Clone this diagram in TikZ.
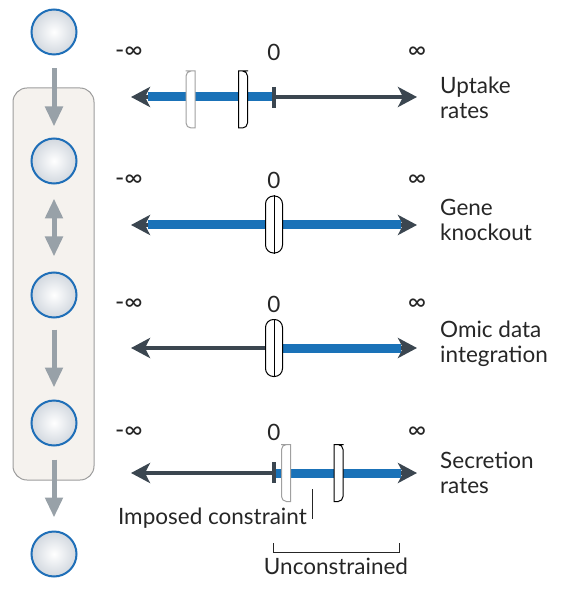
\documentclass[tikz,border=0pt]{standalone}
\usepackage{fontspec}
\setmainfont{Lato}
\usetikzlibrary{arrows.meta}
\definecolor{fluxblue}{HTML}{1A72B8}
\definecolor{axisdark}{HTML}{3B4650}
\definecolor{arrowgray}{HTML}{98A1A8}
\definecolor{boxfill}{HTML}{F5F2EE}
\definecolor{boxline}{HTML}{9C9C9C}
\definecolor{circblue}{HTML}{1F6FB8}
\definecolor{circouter}{HTML}{D2D8DF}
\definecolor{brgray}{HTML}{A0A0A0}
\tikzset{
  met/.style={circle, minimum size=45pt, inner sep=0pt, draw=circblue, line width=2pt,
    inner color=white, outer color=circouter},
  flow/.style={draw=arrowgray, line width=5pt, -{Triangle[length=20pt,width=17pt]}},
  flowboth/.style={draw=arrowgray, line width=5pt, {Triangle[length=20pt,width=17pt]}-{Triangle[length=20pt,width=17pt]}},
  axis/.style={draw=axisdark, line width=4.5pt,
    {Stealth[length=19pt,width=20pt,inset=5pt]}-{Stealth[length=19pt,width=20pt,inset=5pt]}},
  flux/.style={draw=fluxblue, line width=9pt},
  zerotick/.style={draw=axisdark, line width=4.5pt},
  capsule/.style={draw=black, fill=white, line width=1pt, rounded corners=8pt,
    minimum width=17pt, minimum height=57pt, inner sep=0pt},
  lbl/.style={font=\fontsize{22.5}{24.5}\selectfont, inner sep=0pt, text=black!85},
  inflbl/.style={font=\fontsize{25}{26}\selectfont, inner sep=0pt, text=black!85},
  leader/.style={draw=black!85, line width=1pt},
  pics/lbrack/.style={code={
    \path[draw=#1, fill=white, line width=1pt] (0,-28.5) -- (4.5,-28.5) -- (4.5,28.5) -- (0,28.5)
      [rounded corners=5pt] -- (-4.5,28.5) -- (-4.5,-28.5) -- cycle;}},
  pics/rbrack/.style={code={
    \path[draw=#1, fill=white, line width=1pt] (0,-28.5) -- (-4.5,-28.5) -- (-4.5,28.5) -- (0,28.5)
      [rounded corners=5pt] -- (4.5,28.5) -- (4.5,-28.5) -- cycle;}},
}
\begin{document}
\begin{tikzpicture}[x=1pt, y=-1pt]
\useasboundingbox (0,0) rectangle (580,601);
% left pathway
\node[draw=boxline, line width=1pt, fill=boxfill, rounded corners=14pt,
  minimum width=81pt, minimum height=392pt, inner sep=0pt] (box) at (53.5,284) {};
\node[met] (c1) at (54,32) {};
\node[met] (c2) at (54,161) {};
\node[met] (c3) at (54,295) {};
\node[met] (c4) at (54,423) {};
\node[met] (c5) at (54,554) {};
\draw[flow, shorten <=13pt, shorten >=11pt] (c1.south) -- (c2.north);
\draw[flowboth, shorten <=14pt, shorten >=15pt] (c2.south) -- (c3.north);
\draw[flow, shorten <=11pt, shorten >=12pt] (c3.south) -- (c4.north);
\draw[flow, shorten <=13pt, shorten >=13pt] (c4.south) -- (c5.north);

% row 1: uptake rates
\coordinate (l1) at (131,97); \coordinate (r1) at (417,97); \coordinate (z1) at (274,97);
\draw[axis] (l1) -- (r1);
\draw[flux] (148,97) -- (z1);
\draw[zerotick] (274,87) -- (274,108);
\pic at (190.5,99.5) {lbrack=brgray};
\pic at (243,99.5) {rbrack=black};
\node[inflbl] (m1) at (129,53) {-∞};
\node[lbl] (o1) at (274,52) {0};
\node[inflbl] (i1) at (417,53) {∞};
\node[lbl, anchor=west, align=left] (t1) at (440,98) {Uptake\\rates};

% row 2: gene knockout
\coordinate (l2) at (131,225); \coordinate (r2) at (417,225);
\draw[axis] (l2) -- (r2);
\draw[flux] (148,225) -- (401,225);
\node[capsule] (k2) at (274,224.5) {};
\draw[line width=1pt] (k2.north) -- (k2.south);
\node[inflbl] (m2) at (129,181) {-∞};
\node[lbl] (o2) at (274,180) {0};
\node[inflbl] (i2) at (417,181) {∞};
\node[lbl, anchor=west, align=left] (t2) at (440,220) {Gene\\knockout};

% row 3: omic data integration
\coordinate (l3) at (131,348); \coordinate (r3) at (417,348);
\draw[axis] (l3) -- (r3);
\draw[flux] (274,348) -- (401,348);
\node[capsule] (k3) at (274,348) {};
\draw[line width=1pt] (k3.north) -- (k3.south);
\node[inflbl] (m3) at (129,305) {-∞};
\node[lbl] (o3) at (274,304) {0};
\node[inflbl] (i3) at (417,305) {∞};
\node[lbl, anchor=west, align=left] (t3) at (440,344) {Omic data\\integration};

% row 4: secretion rates
\coordinate (l4) at (131,473); \coordinate (r4) at (417,473); \coordinate (z4) at (274,473);
\draw[axis] (l4) -- (r4);
\draw[flux] (z4) -- (401,473);
\draw[zerotick] (274,462) -- (274,483);
\pic at (286,473) {lbrack=brgray};
\pic at (338.5,473) {rbrack=black};
\node[inflbl] (m4) at (129,433) {-∞};
\node[lbl] (o4) at (274,432) {0};
\node[inflbl] (i4) at (417,433) {∞};
\node[lbl, anchor=west, align=left] (t4) at (440,473) {Secretion\\rates};

% annotations
\coordinate (ic) at (312,489);
\coordinate (ie) at (312,519);
\node[lbl, anchor=east] (imp) at (307,518) {Imposed constraint};
\draw[leader] (ic) -- (ie);
\coordinate (ua) at (273,543); \coordinate (ub) at (399,543);
\draw[leader] (ua) -- ++(0,9) -| (ub);
\node[lbl] (unc) at (336,566) {Unconstrained};
\end{tikzpicture}
\end{document}
